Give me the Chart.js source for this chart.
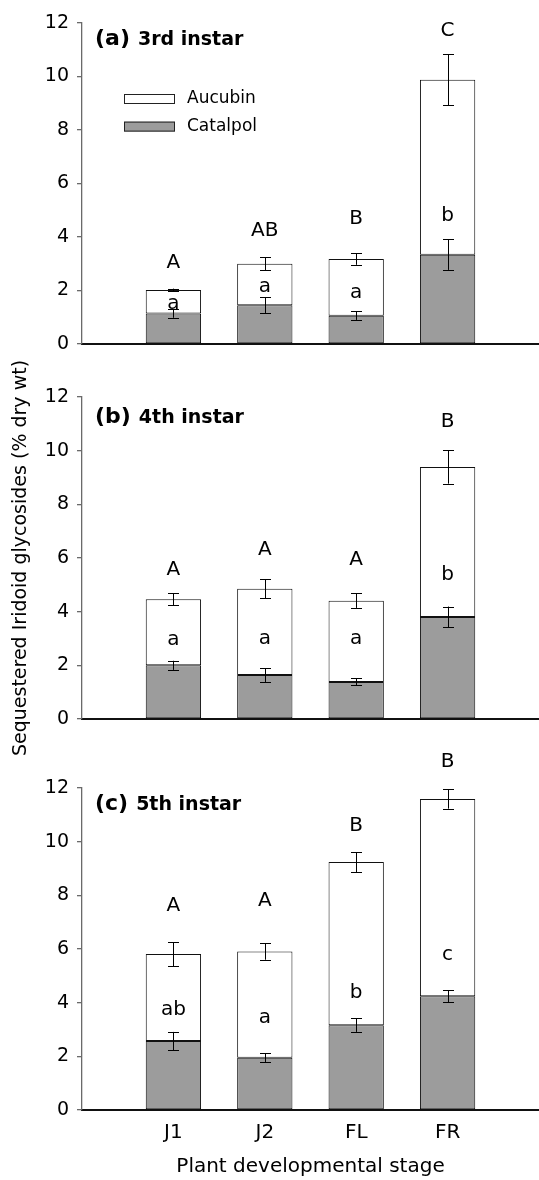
<!DOCTYPE html>
<html>
<head>
<meta charset="utf-8">
<script src="https://cdn.jsdelivr.net/npm/chart.js@4/dist/chart.umd.min.js"></script>
<style>
  html, body { margin: 0; padding: 0; background: #fff; }
  #wrap { position: relative; width: 539px; height: 1180px; overflow: hidden; background: #fff; }
  canvas { position: absolute; left: 0; }
</style>
</head>
<body>
<div id="wrap">
  <canvas id="ca" width="539" height="380" style="top:0px"></canvas>
  <canvas id="cb" width="539" height="440" style="top:340px"></canvas>
  <canvas id="cc" width="539" height="460" style="top:720px"></canvas>
</div>
<script>
// ---------- data ----------
const stages = ['J1', 'J2', 'FL', 'FR'];
const seriesNames = ['Catalpol', 'Aucubin'];
const yMin = 0, yMax = 12, yStep = 2;
const xTitle = 'Plant developmental stage';
const yTitle = 'Sequestered Iridoid glycosides (% dry wt)';

// (a) 3rd instar
const catalpolA = [1.14, 1.45, 1.06, 3.34];
const aucubinA = [0.88, 1.55, 2.12, 6.54];
const catalpolErrA = [0.16, 0.29, 0.16, 0.57];
const totalErrA = [0.05, 0.25, 0.22, 0.96];
const upperLettersA = ['A', 'AB', 'B', 'C'];
const upperLetterYA = [3.02, 4.23, 4.68, 11.71];
const lowerLettersA = ['a', 'a', 'a', 'b'];
const lowerLetterYA = [1.50, 2.13, 1.93, 4.80];

// (b) 4th instar
const catalpolB = [2.00, 1.64, 1.38, 3.80];
const aucubinB = [2.46, 3.21, 3.03, 5.59];
const catalpolErrB = [0.17, 0.26, 0.13, 0.39];
const totalErrB = [0.22, 0.35, 0.27, 0.62];
const upperLettersB = ['A', 'A', 'A', 'B'];
const upperLetterYB = [5.55, 6.32, 5.92, 11.09];
const lowerLettersB = ['a', 'a', 'a', 'b'];
const lowerLetterYB = [2.97, 3.00, 3.00, 5.39];

// (c) 5th instar
const catalpolC = [2.57, 1.95, 3.16, 4.24];
const aucubinC = [3.24, 3.96, 6.08, 7.35];
const catalpolErrC = [0.34, 0.16, 0.25, 0.23];
const totalErrC = [0.45, 0.31, 0.37, 0.36];
const upperLettersC = ['A', 'A', 'B', 'B'];
const upperLetterYC = [7.61, 7.80, 10.59, 12.98];
const lowerLettersC = ['ab', 'a', 'b', 'c'];
const lowerLetterYC = [3.73, 3.42, 4.35, 5.78];

// ---------- styling ----------
const FONT = "'DejaVu Sans', 'Liberation Sans', Arial, sans-serif";
const GRAY = '#9c9c9c';
const EDGE = '#111';
const AXISGRAY = '#6a6a6a';

function pad(arr) { return [null, ...arr, null]; }

function makePanel(canvasId, cfg) {
  const labels = ['', ...stages, ''];
  const annot = {
    id: 'annot_' + canvasId,
    afterDatasetsDraw(chart) {
      const ctx = chart.ctx;
      const ys = chart.scales.y;
      const metaC = chart.getDatasetMeta(0);
      ctx.save();
      ctx.strokeStyle = '#000';
      ctx.lineWidth = 1;
      const drawErr = (x, v, e) => {
        const px = Math.round(x) + 0.5;
        const yt = ys.getPixelForValue(v + e);
        const yb = ys.getPixelForValue(v - e);
        ctx.beginPath();
        ctx.moveTo(px, yt); ctx.lineTo(px, yb);
        ctx.moveTo(px - 5.5, Math.round(yt) + 0.5); ctx.lineTo(px + 5.5, Math.round(yt) + 0.5);
        ctx.moveTo(px - 5.5, Math.round(yb) + 0.5); ctx.lineTo(px + 5.5, Math.round(yb) + 0.5);
        ctx.stroke();
      };
      cfg.cat.forEach((v, i) => {
        const x = metaC.data[i + 1].x;
        drawErr(x, v, cfg.catErr[i]);
        drawErr(x, v + cfg.auc[i], cfg.totErr[i]);
      });
      ctx.restore();
    },
    afterDraw(chart) {
      const ctx = chart.ctx;
      const ys = chart.scales.y;
      const area = chart.chartArea;
      const metaC = chart.getDatasetMeta(0);
      ctx.save();
      ctx.fillStyle = '#000';
      ctx.textAlign = 'center';
      ctx.textBaseline = 'middle';
      ctx.font = '20px ' + FONT;
      stages.forEach((s, i) => {
        const x = metaC.data[i + 1].x;
        ctx.fillText(cfg.upper[i], x, ys.getPixelForValue(cfg.upperY[i]));
        ctx.fillText(cfg.lower[i], x, ys.getPixelForValue(cfg.lowerY[i]));
      });
      // panel title
      ctx.textAlign = 'left';
      ctx.textBaseline = 'alphabetic';
      const tx = area.left + 13, ty = area.top + cfg.titleBase;
      ctx.font = 'bold 22px ' + FONT;
      ctx.fillText(cfg.tag, tx, ty);
      const w = ctx.measureText(cfg.tag).width;
      ctx.font = 'bold 19px ' + FONT;
      ctx.fillText(cfg.title, tx + w + 8, ty);
      // legend
      if (cfg.legend) {
        const items = chart.data.datasets.slice().reverse();
        items.forEach((ds, k) => {
          const bx = area.left + 42, by = area.top + 71 + k * 27.6;
          ctx.fillStyle = ds.backgroundColor;
          ctx.fillRect(bx, by, 51, 10);
          ctx.strokeStyle = '#222';
          ctx.lineWidth = 1;
          ctx.strokeRect(bx + 0.5, by + 0.5, 50, 9);
          ctx.fillStyle = '#000';
          ctx.font = '17px ' + FONT;
          ctx.textBaseline = 'middle';
          ctx.fillText(ds.label, area.left + 105, by + 5);
        });
      }
      ctx.restore();
    }
  };

  return new Chart(document.getElementById(canvasId), {
    type: 'bar',
    data: {
      labels: labels,
      datasets: [
        { label: seriesNames[0], data: pad(cfg.cat), backgroundColor: GRAY, borderColor: EDGE, borderWidth: 1, borderSkipped: false },
        { label: seriesNames[1], data: pad(cfg.auc), backgroundColor: '#ffffff', borderColor: EDGE, borderWidth: 1, borderSkipped: false }
      ]
    },
    options: {
      responsive: false,
      animation: false,
      devicePixelRatio: 1,
      layout: { padding: { top: cfg.padTop, left: 0, right: 0, bottom: 0 } },
      datasets: { bar: { categoryPercentage: 1.0, barPercentage: 0.605 } },
      plugins: { legend: { display: false }, tooltip: { enabled: false }, title: { display: false } },
      scales: {
        x: {
          type: 'category',
          stacked: true,
          offset: false,
          grid: { display: false, drawTicks: true, tickLength: 11 },
          border: { display: true, color: '#111', width: 2 },
          ticks: { display: cfg.showX, autoSkip: false, maxRotation: 0, padding: 0, color: '#000', font: { family: FONT, size: 20 } },
          title: { display: cfg.showX, text: xTitle, color: '#000', font: { family: FONT, size: 20 }, padding: { top: 0, bottom: 1 } },
          afterFit(s) { s.height = cfg.xh; }
        },
        y: {
          stacked: true,
          min: yMin, max: yMax,
          ticks: { stepSize: yStep, padding: 8, color: '#000', font: { family: FONT, size: 19 } },
          grid: { drawOnChartArea: false, drawTicks: true, tickLength: 5, color: AXISGRAY, lineWidth: 1.3 },
          border: { display: true, color: AXISGRAY, width: 1.3 },
          title: { display: cfg.showYTitle, text: yTitle, color: '#000', font: { family: FONT, size: 19 }, padding: { top: 10, bottom: 0 } },
          afterFit(s) { s.width = 82; }
        }
      }
    },
    plugins: [annot]
  });
}

makePanel('ca', {
  cat: catalpolA, auc: aucubinA, catErr: catalpolErrA, totErr: totalErrA,
  upper: upperLettersA, upperY: upperLetterYA, lower: lowerLettersA, lowerY: lowerLetterYA,
  tag: '(a)', title: '3rd instar', titleBase: 21.5,
  padTop: 23, xh: 36, showX: false, showYTitle: false, legend: true
});
makePanel('cb', {
  cat: catalpolB, auc: aucubinB, catErr: catalpolErrB, totErr: totalErrB,
  upper: upperLettersB, upperY: upperLetterYB, lower: lowerLettersB, lowerY: lowerLetterYB,
  tag: '(b)', title: '4th instar', titleBase: 25.6,
  padTop: 57, xh: 61, showX: false, showYTitle: true, legend: false
});
makePanel('cc', {
  cat: catalpolC, auc: aucubinC, catErr: catalpolErrC, totErr: totalErrC,
  upper: upperLettersC, upperY: upperLetterYC, lower: lowerLettersC, lowerY: lowerLetterYC,
  tag: '(c)', title: '5th instar', titleBase: 21.7,
  padTop: 68, xh: 70, showX: true, showYTitle: false, legend: false
});
</script>
</body>
</html>
